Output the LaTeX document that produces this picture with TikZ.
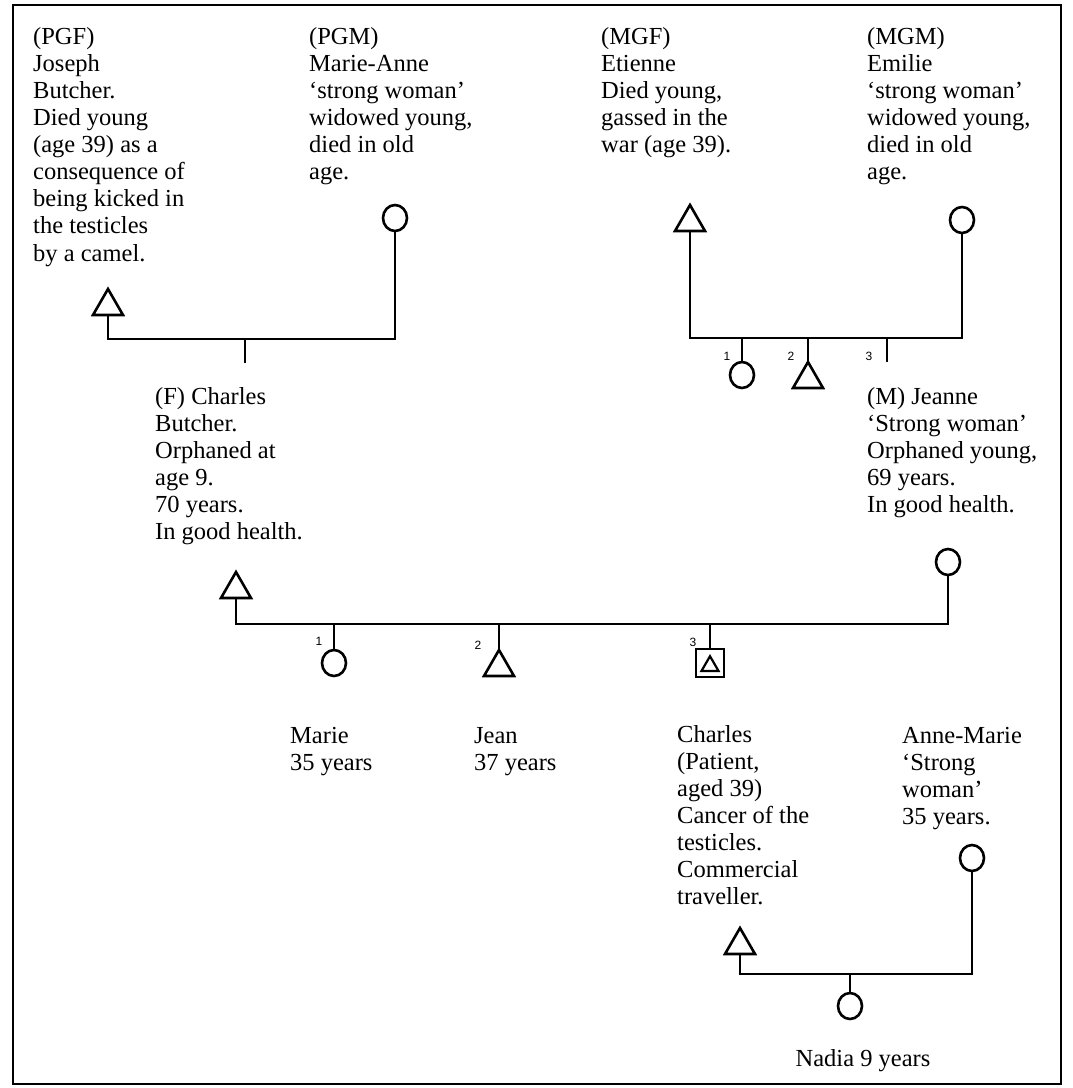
\documentclass[tikz,border=0pt]{standalone}
\usepackage{fontspec}
\setmainfont{Liberation Serif}
\newfontfamily\numfont{Liberation Sans}
\usetikzlibrary{shapes.geometric}

\tikzset{
  male/.style={draw, regular polygon, regular polygon sides=3, minimum size=34.6pt,
    inner sep=0pt, outer sep=0pt, line width=2.6pt, anchor=north},
  female/.style={draw, ellipse, minimum width=24pt, minimum height=26pt,
    inner sep=0pt, outer sep=0pt, line width=2.6pt, anchor=north},
  patient/.style={draw, rectangle, minimum size=28pt, inner sep=0pt, outer sep=0pt,
    line width=2.6pt, anchor=north},
  note/.style={align=left, anchor=north west, inner sep=0pt,
    font=\fontsize{24.5}{27.1}\selectfont, execute at begin node=\strut},
  sibno/.style={font=\numfont\fontsize{12}{14}\selectfont, inner sep=0pt},
  link/.style={line width=2.8pt}
}

\begin{document}
\begin{tikzpicture}[x=1pt, y=-1pt]
  \useasboundingbox (0,0) rectangle (1073,1088);
  \draw[line width=1.5pt] (13,5) rectangle (1061,1084);

  % grandparents
  \node[male] (pgf) at (108,289) {};
  \node[female] (pgm) at (395,205) {};
  \node[male] (mgf) at (690,205) {};
  \node[female] (mgm) at (962,207) {};

  \node[note] (pgftext) at (33,27) {(PGF)\\Joseph\\Butcher.\\Died young\\(age 39) as a\\consequence of\\being kicked in\\the testicles\\by a camel.};
  \node[note] (pgmtext) at (309,27) {(PGM)\\Marie-Anne\\‘strong woman’\\widowed young,\\died in old\\age.};
  \node[note] (mgftext) at (601,27) {(MGF)\\Etienne\\Died young,\\gassed in the\\war (age 39).};
  \node[note] (mgmtext) at (867,27) {(MGM)\\Emilie\\‘strong woman’\\widowed young,\\died in old\\age.};

  \coordinate (pline) at (245,339);
  \coordinate (fstub) at (245,363);
  \draw[link] (pgf.south) |- (pline) -| (pgm.south);
  \draw[link] (pline) -- (fstub);

  % maternal sibship
  \coordinate (mline) at (742,338);
  \node[female] (ms1) at (742,362) {};
  \node[male] (ms2) at (808,362) {};
  \coordinate (ms3top) at (887,338);
  \coordinate (ms3) at (887,362);
  \draw[link] (mgf.south) |- (mline) -| (mgm.south);
  \draw[link] (mline) -- (ms1.north);
  \draw[link] (ms2.north |- mline) -- (ms2.north);
  \draw[link] (ms3top) -- (ms3);
  \node[sibno] at (727,356) {1};
  \node[sibno] at (791,356) {2};
  \node[sibno] at (869,356) {3};

  % parents
  \node[male] (f) at (236,572) {};
  \node[female] (m) at (948,549) {};
  \node[note] (ftext) at (155,387) {(F) Charles\\Butcher.\\Orphaned at\\age 9.\\70 years.\\In good health.};
  \node[note] (mtext) at (867,387) {(M) Jeanne\\‘Strong woman’\\Orphaned young,\\69 years.\\In good health.};

  \coordinate (sline) at (334,624);
  \draw[link] (f.south) |- (sline) -| (m.south);

  % siblings
  \node[female] (marie) at (334,650) {};
  \node[male] (jean) at (499,650) {};
  \node[patient] (charles) at (710,649) {};
  \node[draw, regular polygon, regular polygon sides=3, minimum size=19.6pt,
    inner sep=0pt, line width=2.2pt, anchor=north] (charlesin) at (710,654) {};
  \draw[link] (sline) -- (marie.north);
  \draw[link] (jean.north |- sline) -- (jean.north);
  \draw[link] (charles.north |- sline) -- (charles.north);
  \node[sibno] at (319,641) {1};
  \node[sibno] at (478,645) {2};
  \node[sibno] at (693,642) {3};

  \node[note] (marietext) at (290,727) {Marie\\35 years};
  \node[note] (jeantext) at (474,727) {Jean\\37 years};
  \node[note] (charlestext) at (677,725) {Charles\\(Patient,\\aged 39)\\Cancer of the\\testicles.\\Commercial\\traveller.};
  \node[note] (amtext) at (902,727) {Anne-Marie\\‘Strong\\woman’\\35 years.};

  % patient's family
  \node[male] (ch) at (740,928) {};
  \node[female] (am) at (972,845) {};
  \node[female] (nadia) at (850,993) {};
  \coordinate (cline) at (850,974);
  \draw[link] (ch.south) |- (cline) -| (am.south);
  \draw[link] (cline) -- (nadia.north);
  \node[note, anchor=north] (nadiatext) at (863,1047) {Nadia 9 years};
\end{tikzpicture}
\end{document}
